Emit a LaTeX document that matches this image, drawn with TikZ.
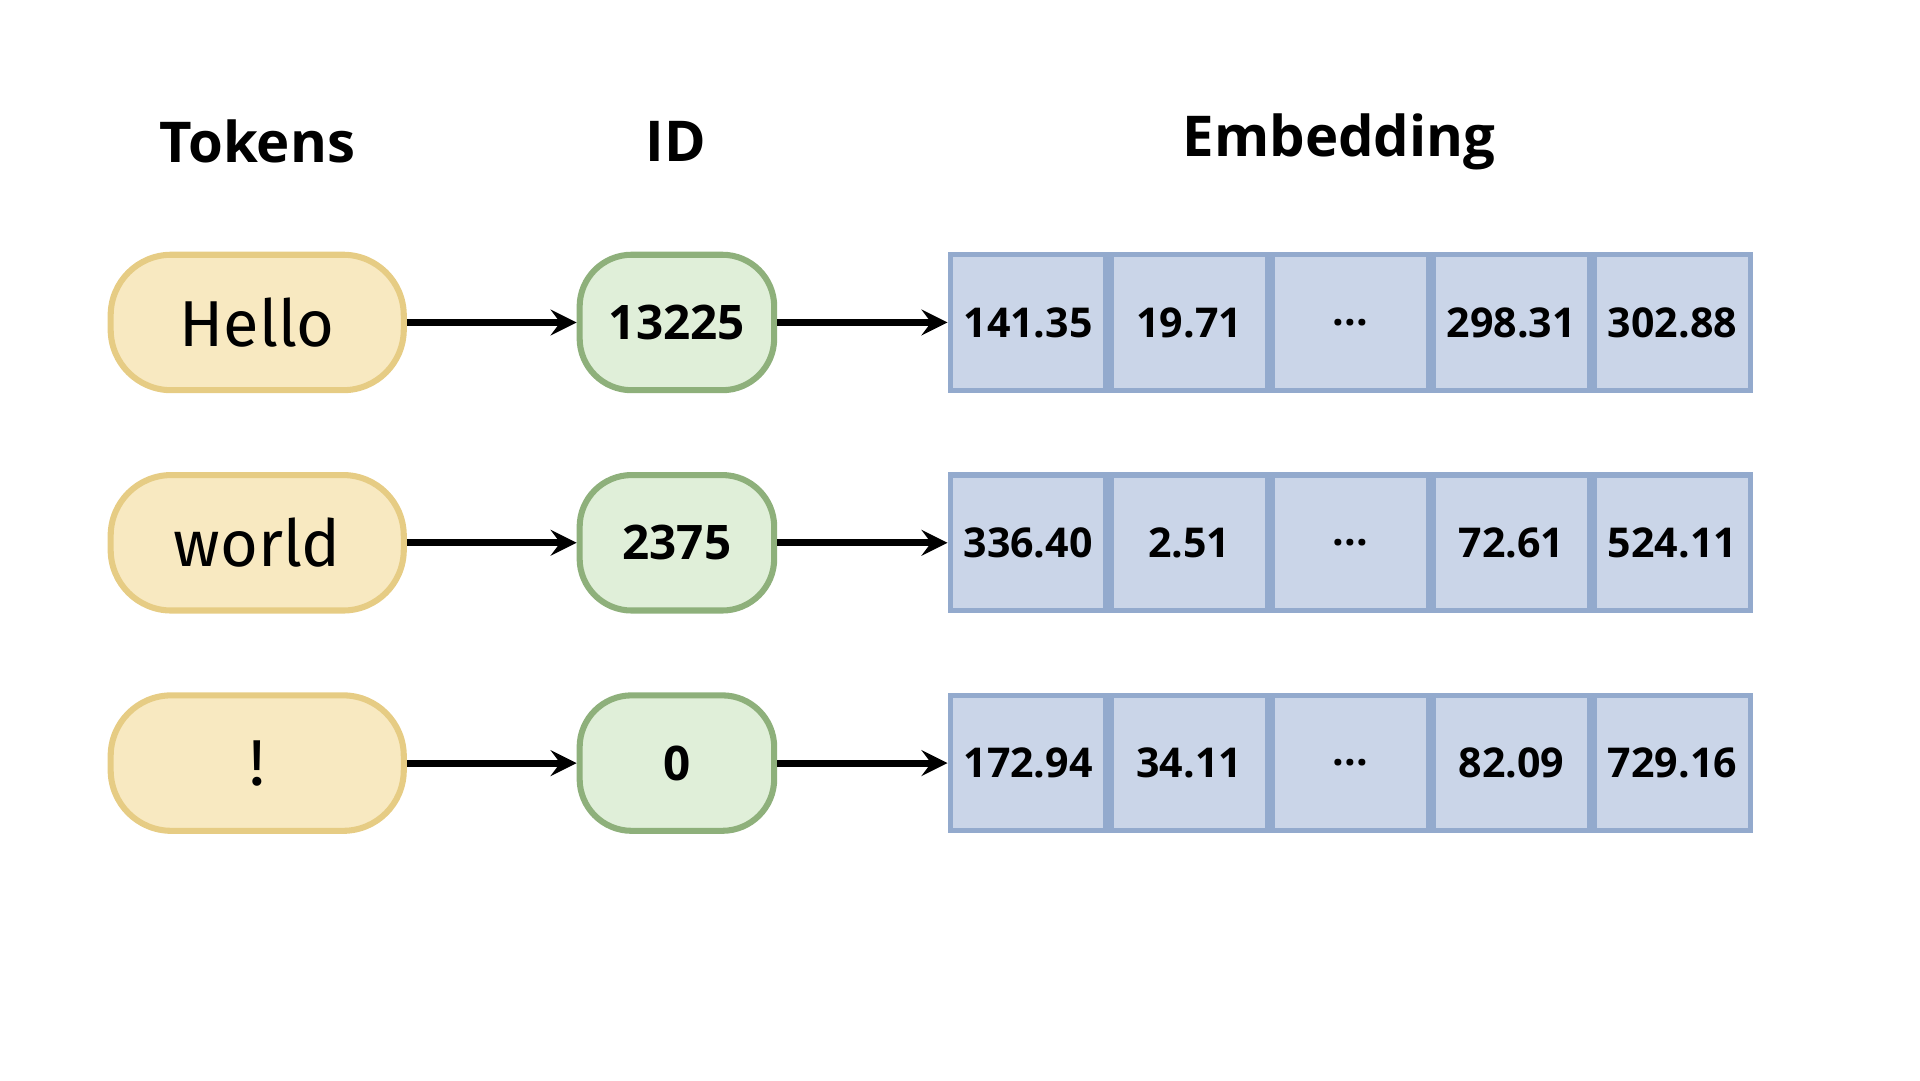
\documentclass[tikz,border=0pt]{standalone}
\usepackage{fontspec}
\setmainfont{Open Sans}
\newfontfamily\tokfont{Fira Sans}
\usetikzlibrary{positioning}
\definecolor{tokfill}{HTML}{F8E9C1}
\definecolor{tokline}{HTML}{E6CC84}
\definecolor{idfill}{HTML}{E0EFD9}
\definecolor{idline}{HTML}{8EB07B}
\definecolor{embfill}{HTML}{CAD5E8}
\definecolor{embline}{HTML}{93AACD}
\begin{document}
\begin{tikzpicture}[x=0.01cm,y=-0.01cm,->,line width=1.6pt,>=stealth]
    \tikzstyle{token}=[draw=tokline,fill=tokfill,rounded corners=14pt,line width=1.4pt,minimum width=2.38cm,minimum height=1.1cm,font=\tokfont\fontsize{15}{15}\selectfont]
    \tikzstyle{idbox}=[draw=idline,fill=idfill,rounded corners=12pt,line width=1.4pt,minimum width=1.58cm,minimum height=1.1cm,font=\bfseries\fontsize{11}{11}\selectfont]
    \tikzstyle{cell}=[draw=embline,fill=embfill,line width=1.2pt,minimum width=1.266cm,minimum height=1.1cm,inner sep=0pt,font=\bfseries\fontsize{9.5}{9.5}\selectfont]
    \tikzstyle{title}=[font=\bfseries\fontsize{13}{13}\selectfont]
    \useasboundingbox (0,0) rectangle (1560,878);

    % Column titles
    \node[title] (tt) at (209,115) {Tokens};
    \node[title] (ti) at (549,115) {ID};
    \node[title] (te) at (1088,115) {Embedding};

    % Rows: token, id, five embedding cells
    \foreach \r/\y/\tok/\id/\a/\b/\d/\e in {1/262/Hello/13225/141.35/19.71/298.31/302.88,
                                            2/441/world/2375/336.40/2.51/72.61/524.11,
                                            3/620/!/0/172.94/34.11/82.09/729.16}{
        \node[token] (T-\r) at (209,\y) {\tok};
        \node[idbox] (I-\r) at (550,\y) {\id};
        \node[cell] (E-\r-1) at (835.3,\y) {\a};
        \node[cell,right=0pt of E-\r-1] (E-\r-2) {\b};
        \node[cell,right=0pt of E-\r-2] (E-\r-3) {...};
        \node[cell,right=0pt of E-\r-3] (E-\r-4) {\d};
        \node[cell,right=0pt of E-\r-4] (E-\r-5) {\e};
        \draw (T-\r) -- (I-\r);
        \draw (I-\r) -- (E-\r-1);
    }
\end{tikzpicture}
\end{document}
